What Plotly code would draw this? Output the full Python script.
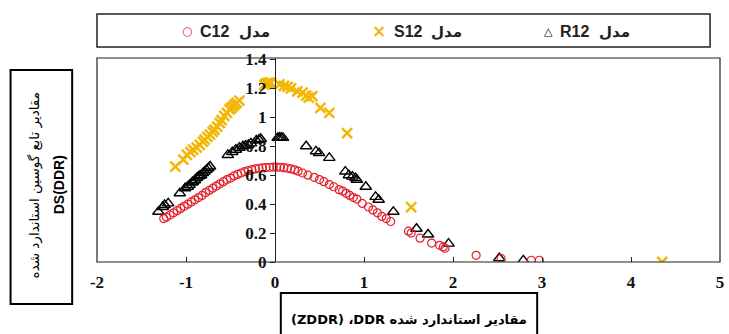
import plotly.graph_objects as go

# ---- data ----
c12_x = [-1.25, -1.22, -1.18, -1.14, -1.10, -1.06, -1.02, -0.98, -0.94, -0.90, -0.86, -0.82,
         -0.78, -0.74, -0.70, -0.66, -0.62, -0.58, -0.54, -0.50, -0.46, -0.42, -0.38, -0.34,
         -0.30, -0.26, -0.22, -0.18, -0.14, -0.10, -0.06, -0.02, 0.02, 0.06, 0.10, 0.14, 0.18,
         0.22, 0.26, 0.31, 0.37, 0.44, 0.50, 0.55, 0.61, 0.66, 0.72, 0.76, 0.80, 0.84, 0.88,
         0.92, 0.98, 1.05, 1.10, 1.15, 1.20, 1.25, 1.30, 1.50, 1.53, 1.63, 1.76, 1.85, 1.89,
         1.91, 2.26, 2.54, 2.88, 2.97]
c12_y = [0.300, 0.310, 0.325, 0.340, 0.355, 0.370, 0.385, 0.400, 0.415, 0.430, 0.445, 0.460,
         0.480, 0.495, 0.510, 0.525, 0.540, 0.555, 0.570, 0.580, 0.595, 0.605, 0.615, 0.625,
         0.632, 0.638, 0.643, 0.648, 0.651, 0.653, 0.655, 0.656, 0.656, 0.655, 0.652, 0.648,
         0.643, 0.637, 0.628, 0.615, 0.600, 0.585, 0.570, 0.555, 0.535, 0.520, 0.500, 0.490,
         0.475, 0.460, 0.445, 0.435, 0.405, 0.380, 0.360, 0.340, 0.315, 0.300, 0.280, 0.213,
         0.200, 0.165, 0.131, 0.115, 0.104, 0.095, 0.046, 0.025, 0.012, 0.012]

r12_x = [-1.31, -1.26, -1.24, -1.20, -1.07, -1.01, -0.98, -0.96, -0.93, -0.92, -0.90, -0.88,
         -0.86, -0.845, -0.83, -0.81, -0.79, -0.77, -0.75, -0.73, -0.53, -0.48, -0.44, -0.40,
         -0.36, -0.33, -0.30, -0.27, -0.21, -0.18, -0.16, 0.03, 0.05, 0.07, 0.09, 0.35, 0.46,
         0.495, 0.61, 0.79, 0.83, 0.87, 0.905, 0.92, 1.02, 1.13, 1.165, 1.33, 1.59, 1.72, 1.95,
         2.52, 2.79]
r12_y = [0.347, 0.380, 0.394, 0.405, 0.475, 0.510, 0.520, 0.533, 0.550, 0.556, 0.565, 0.580,
         0.590, 0.595, 0.600, 0.614, 0.625, 0.637, 0.648, 0.660, 0.740, 0.760, 0.776, 0.790,
         0.800, 0.805, 0.810, 0.820, 0.840, 0.845, 0.850, 0.858, 0.860, 0.860, 0.858, 0.800,
         0.765, 0.753, 0.720, 0.625, 0.600, 0.590, 0.580, 0.568, 0.520, 0.450, 0.430, 0.347,
         0.230, 0.190, 0.127, 0.027, 0.011]

s12_x = [-1.12, -1.03, -0.99, -0.95, -0.92, -0.88, -0.846, -0.81, -0.79, -0.76, -0.73, -0.70,
         -0.68, -0.65, -0.62, -0.60, -0.57, -0.54, -0.51, -0.49, -0.47, -0.45, -0.43, -0.40,
         -0.12, -0.10, -0.08, -0.06, -0.045, 0.05, 0.10, 0.14, 0.18, 0.25, 0.31, 0.35, 0.38,
         0.42, 0.51, 0.61, 0.81, 1.53, 4.35]
s12_y = [0.660, 0.707, 0.740, 0.760, 0.776, 0.790, 0.810, 0.830, 0.845, 0.865, 0.880, 0.900,
         0.915, 0.935, 0.960, 0.980, 1.010, 1.030, 1.055, 1.065, 1.077, 1.090, 1.100, 1.115,
         1.225, 1.235, 1.238, 1.240, 1.240, 1.228, 1.217, 1.210, 1.200, 1.180, 1.170, 1.150,
         1.136, 1.147, 1.066, 1.030, 0.890, 0.380, 0.000]

x_ticks = [-2, -1, 0, 1, 2, 3, 4, 5]
x_tick_text = ["-2", "-1", "0", "1", "2", "3", "4", "5"]
y_ticks = [0, 0.2, 0.4, 0.6, 0.8, 1, 1.2, 1.4]
y_tick_text = ["0", "0.2", "0.4", "0.6", "0.8", "1", "1.2", "1.4"]

legend_names = ["C12", "S12", "R12"]
legend_word = "مدل"
y_title_line1 = "مقادیر تابع گوسین استاندارد شده"
y_title_line2 = "DS(DDR)"
x_title = "(ZDDR) ،DDR " + "مقادیر استاندارد شده"

RED = "#e3202b"
YEL = "#f2b705"
BLK = "#000000"
SERIF = "Liberation Serif"
SANS = "Liberation Sans"
ARAB = "DejaVu Sans"

fig = go.Figure()
fig.add_trace(go.Scatter(x=r12_x, y=r12_y, mode="markers", name="R12",
                         marker=dict(symbol="triangle-up-open", size=10, color=BLK,
                                     line=dict(width=1.4, color=BLK))))
fig.add_trace(go.Scatter(x=s12_x, y=s12_y, mode="markers", name="S12",
                         marker=dict(symbol="x-thin-open", size=10, color=YEL,
                                     line=dict(width=2.5, color=YEL))))
fig.add_trace(go.Scatter(x=c12_x, y=c12_y, mode="markers", name="C12",
                         marker=dict(symbol="circle-open", size=8, color=RED,
                                     line=dict(width=1.2, color=RED))))

W, H = 729, 334
ml, mr, mt, mb = 97, 5, 58, 72
pw, ph = W - ml - mr, H - mt - mb


def px(x):
    return (x - ml) / pw


def py(y):
    return (H - mb - y) / ph


shapes = [
    dict(type="rect", xref="paper", yref="paper", x0=0, x1=1, y0=0, y1=1,
         line=dict(color="#222", width=1.2)),
    dict(type="rect", xref="paper", yref="paper", x0=px(97), x1=px(714), y0=py(47), y1=py(14),
         line=dict(color="#222", width=1.5)),
    dict(type="rect", xref="paper", yref="paper", x0=px(10), x1=px(72), y0=py(304), y1=py(70),
         line=dict(color="#000", width=2)),
    dict(type="rect", xref="paper", yref="paper", x0=px(282), x1=px(540), y0=py(345), y1=py(293),
         line=dict(color="#000", width=2)),
]


def note(x, y, text, font, **kw):
    d = dict(x=px(x), y=py(y), xref="paper", yref="paper", text=text, showarrow=False,
             xanchor="center", yanchor="middle", font=font)
    d.update(kw)
    return d


ann = []
ly = 31
leg_items = [
    (188, "○", RED, 12, 215, legend_names[0], 256),
    (381, "×", YEL, 17, 410, legend_names[1], 449),
    (551, "△", BLK, 11, 578, legend_names[2], 618),
]
for mx, sym, col, sz, tx, name, wx in leg_items:
    ann.append(note(mx, ly, sym, dict(family=ARAB, size=sz, color=col,
                                      weight="bold" if sym == "×" else "normal")))
    ann.append(note(tx, ly, "<b>" + name + "</b>", dict(family=SANS, size=16, color="#222")))
    ann.append(note(wx, ly + 1, "<b>" + legend_word + "</b>", dict(family=ARAB, size=15, color="#222")))

ann.append(note(34, 185, y_title_line1, dict(family=ARAB, size=13.5, color="#000"),
                textangle=-90))
ann.append(note(59, 185, "<b>" + y_title_line2 + "</b>", dict(family=SANS, size=14, color="#000"),
                textangle=-90))
ann.append(note(411, 319, "<b>" + x_title + "</b>", dict(family=ARAB, size=13, color="#000")))

fig.update_layout(
    width=W, height=H,
    margin=dict(l=ml, r=mr, t=mt, b=mb),
    paper_bgcolor="white", plot_bgcolor="white",
    showlegend=False,
    shapes=shapes,
    annotations=ann,
    xaxis=dict(range=[-2, 5], tickvals=x_ticks, ticktext=x_tick_text, ticks="inside",
               ticklen=5, tickcolor="#222", ticklabelstandoff=8,
               showgrid=False, zeroline=False, showline=False,
               tickfont=dict(family=SERIF, size=17, color="#111", weight="bold")),
    yaxis=dict(range=[0, 1.41], tickvals=y_ticks, ticktext=y_tick_text,
               anchor="free", position=2 / 7, ticks="outside", ticklen=5, tickcolor="#222",
               showline=True, linecolor="#222", linewidth=1,
               showgrid=False, zeroline=False,
               tickfont=dict(family=SERIF, size=17, color="#111", weight="bold")),
)

fig.write_html("out.html")
